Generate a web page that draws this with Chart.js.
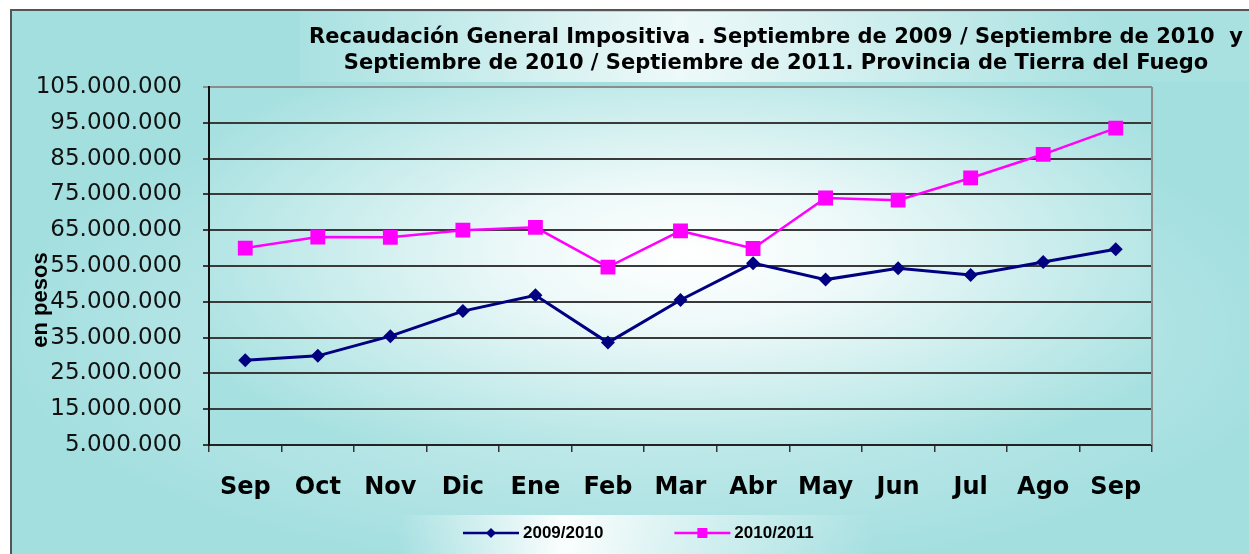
<!DOCTYPE html>
<html>
<head>
<meta charset="utf-8">
<script src="https://cdn.jsdelivr.net/npm/chart.js@4.4.0/dist/chart.umd.min.js"></script>
<style>
  html, body { margin: 0; padding: 0; background: #fff; }
  #wrap { width: 1249px; height: 554px; }
</style>
</head>
<body>
<div id="wrap"><canvas id="grafico" width="1249" height="554"></canvas></div>
<script>
// datos (en pesos)
const meses = ['Sep', 'Oct', 'Nov', 'Dic', 'Ene', 'Feb', 'Mar', 'Abr', 'May', 'Jun', 'Jul', 'Ago', 'Sep'];
const recaudacion0910 = [28700000, 29900000, 35400000, 42400000, 46800000, 33600000, 45500000, 55800000, 51200000, 54400000, 52500000, 56100000, 59700000];
const recaudacion1011 = [60000000, 63100000, 63000000, 65000000, 65800000, 54700000, 64800000, 59900000, 74000000, 73400000, 79600000, 86200000, 93500000];
const series = ['2009/2010', '2010/2011'];
const titulo = [
  'Recaudación General Impositiva . Septiembre de 2009 / Septiembre de 2010  y',
  'Septiembre de 2010 / Septiembre de 2011. Provincia de Tierra del Fuego'
];
const tituloEjeY = 'en pesos';
const yMin = 5000000;
const yMax = 105000000;
const yPaso = 10000000;

const AZUL = '#000080';
const ROSA = '#ff00ff';
const CIAN = '#a4dfe0';

function miles(v) {
  return String(v).replace(/\B(?=(\d{3})+(?!\d))/g, '.');
}

// fondo: marco, caja del titulo, area de trazado y caja de leyenda
const fondo = {
  id: 'fondo',
  beforeDraw(chart) {
    const { ctx, width, height, chartArea: a } = chart;
    ctx.save();
    ctx.fillStyle = '#fff';
    ctx.fillRect(0, 0, width, height);
    ctx.fillStyle = CIAN;
    ctx.fillRect(11, 10, width - 11, height - 10);

    // brillo general
    ctx.save();
    ctx.beginPath();
    ctx.rect(11, 10, width - 11, height - 10);
    ctx.clip();
    ctx.translate(650, 330);
    ctx.scale(1, 0.38);
    let g = ctx.createRadialGradient(0, 0, 0, 0, 0, 650);
    g.addColorStop(0, 'rgba(255,255,255,0.55)');
    g.addColorStop(1, 'rgba(255,255,255,0)');
    ctx.fillStyle = g;
    ctx.fillRect(-700, -900, 1400, 1800);
    ctx.restore();

    // caja del titulo
    g = ctx.createLinearGradient(300, 0, 1249, 0);
    g.addColorStop(0, '#a9e1e1');
    g.addColorStop(0.4, '#eef9f9');
    g.addColorStop(0.85, '#a9e1e1');
    ctx.fillStyle = g;
    ctx.fillRect(300, 12, 949, 70);

    // area de trazado
    ctx.save();
    ctx.beginPath();
    ctx.rect(a.left, a.top, a.right - a.left, a.bottom - a.top);
    ctx.clip();
    ctx.translate(690, 255);
    ctx.scale(1, 0.42);
    g = ctx.createRadialGradient(0, 0, 0, 0, 0, 560);
    g.addColorStop(0, '#ffffff');
    g.addColorStop(0.3, '#eef9f9');
    g.addColorStop(1, '#a6e0e0');
    ctx.fillStyle = g;
    ctx.fillRect(-800, -1000, 1600, 2000);
    ctx.restore();

    // caja de la leyenda
    g = ctx.createLinearGradient(397, 0, 875, 0);
    g.addColorStop(0, 'rgba(255,255,255,0)');
    g.addColorStop(0.35, 'rgba(255,255,255,0.95)');
    g.addColorStop(0.55, 'rgba(255,255,255,0.6)');
    g.addColorStop(1, 'rgba(255,255,255,0)');
    ctx.fillStyle = g;
    ctx.fillRect(397, 515, 478, 39);

    // marco exterior
    ctx.strokeStyle = '#555';
    ctx.lineWidth = 2;
    ctx.beginPath();
    ctx.moveTo(11, height);
    ctx.lineTo(11, 10);
    ctx.lineTo(width, 10);
    ctx.stroke();
    ctx.restore();
  }
};

// textos y leyenda
const textos = {
  id: 'textos',
  afterDraw(chart) {
    const { ctx, chartArea: a } = chart;
    ctx.save();

    // borde derecho del area
    ctx.strokeStyle = '#8c8c8c';
    ctx.lineWidth = 2;
    ctx.beginPath();
    ctx.moveTo(a.right, a.top);
    ctx.lineTo(a.right, a.bottom);
    ctx.stroke();

    ctx.fillStyle = '#000';
    ctx.font = 'bold 21px "DejaVu Sans"';
    ctx.textAlign = 'center';
    ctx.textBaseline = 'alphabetic';
    ctx.fillText(titulo[0], 776, 43);
    ctx.fillText(titulo[1], 776, 69);

    // titulo del eje y
    ctx.save();
    ctx.translate(47, 300);
    ctx.rotate(-Math.PI / 2);
    ctx.font = 'bold 22px "Liberation Sans"';
    ctx.fillText(tituloEjeY, 0, 0);
    ctx.restore();

    // leyenda
    ctx.font = 'bold 17px "Liberation Sans"';
    ctx.textAlign = 'left';
    ctx.textBaseline = 'middle';
    const y = 533;
    let x = 463;
    chart.data.datasets.forEach((ds, i) => {
      ctx.strokeStyle = ds.borderColor;
      ctx.fillStyle = ds.borderColor;
      ctx.lineWidth = 2.5;
      ctx.beginPath();
      ctx.moveTo(x, y);
      ctx.lineTo(x + 56, y);
      ctx.stroke();
      const cx = x + 28;
      ctx.beginPath();
      if (ds.pointStyle === 'rectRot') {
        ctx.moveTo(cx, y - 5);
        ctx.lineTo(cx + 5, y);
        ctx.lineTo(cx, y + 5);
        ctx.lineTo(cx - 5, y);
      } else {
        ctx.rect(cx - 5, y - 5, 10, 10);
      }
      ctx.closePath();
      ctx.fill();
      ctx.fillStyle = '#000';
      ctx.fillText(ds.label, x + 60, y);
      x += 60 + ctx.measureText(ds.label).width + 71;
    });
    ctx.restore();
  }
};

new Chart(document.getElementById('grafico'), {
  type: 'line',
  data: {
    labels: meses,
    datasets: [
      {
        label: series[0],
        data: recaudacion0910,
        borderColor: AZUL,
        backgroundColor: AZUL,
        borderWidth: 3,
        pointStyle: 'rectRot',
        pointRadius: 7,
        pointBorderWidth: 0,
        tension: 0
      },
      {
        label: series[1],
        data: recaudacion1011,
        borderColor: ROSA,
        backgroundColor: ROSA,
        borderWidth: 2.5,
        pointStyle: 'rect',
        pointRadius: 10.5,
        pointBorderWidth: 0,
        tension: 0
      }
    ]
  },
  options: {
    responsive: false,
    animation: false,
    layout: { padding: { top: 87, right: 97, left: 0, bottom: 0 } },
    plugins: {
      legend: { display: false },
      title: { display: false },
      tooltip: { enabled: false }
    },
    scales: {
      x: {
        offset: true,
        grid: { offset: true, drawOnChartArea: false, drawTicks: true, tickLength: 7, color: '#333', lineWidth: 1.5 },
        border: { color: '#222', width: 2 },
        ticks: {
          color: '#000',
          font: { family: 'DejaVu Sans', size: 24, weight: 'bold' },
          padding: 21,
          maxRotation: 0,
          autoSkip: false
        },
        afterFit(s) { s.height = 109; }
      },
      y: {
        min: yMin,
        max: yMax,
        ticks: {
          stepSize: yPaso,
          color: '#111',
          font: { family: 'DejaVu Sans', size: 23 },
          padding: 21,
          callback: v => miles(v)
        },
        grid: {
          color: c => (c.tick && c.tick.value === yMax ? '#8c8c8c' : '#3a3a3a'),
          lineWidth: 2,
          tickLength: 6,
          drawTicks: true
        },
        border: { color: '#111', width: 2 },
        afterFit(s) { s.width = 209; }
      }
    }
  },
  plugins: [fondo, textos]
});
</script>
</body>
</html>
